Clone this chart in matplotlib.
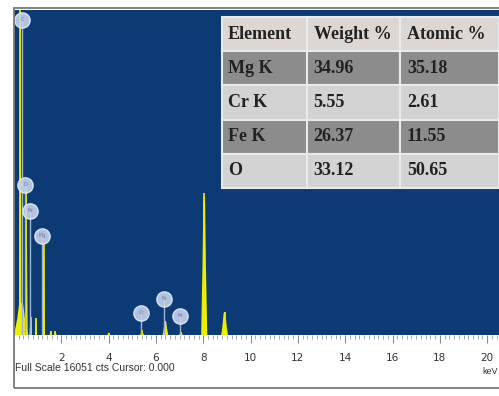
import matplotlib.pyplot as plt
from matplotlib.patches import Rectangle
from matplotlib.ticker import MultipleLocator

# spectrum peaks: energy (keV), height (counts), half width (keV)
peak_kev = [0.27, 0.30, 0.52, 0.70, 0.93, 1.25, 1.55, 1.75, 4.00, 5.41, 6.40, 7.06, 8.04, 8.90]
peak_cts = [16400, 1600, 7400, 900, 840, 4500, 200, 180, 120, 250, 700, 150, 7000, 1150]
peak_hw = [0.05, 0.30, 0.06, 0.05, 0.04, 0.06, 0.05, 0.05, 0.05, 0.08, 0.12, 0.08, 0.13, 0.14]

# peak label balloons
label_names = ['C', 'O', 'Fe', 'Mg', 'Cr', 'Fe', 'Fe']
label_kev = [0.35, 0.48, 0.69, 1.20, 5.38, 6.35, 7.03]
label_cts = [15560, 7410, 6130, 4890, 1090, 1780, 940]

full_scale = 16051
x_ticks = [2, 4, 6, 8, 10, 12, 14, 16, 18, 20]

# quantification table
col_heads = ['Element', 'Weight %', 'Atomic %']
elements = ['Mg K', 'Cr K', 'Fe K', 'O']
weight = ['34.96', '5.55', '26.37', '33.12']
atomic = ['35.18', '2.61', '11.55', '50.65']

W, H = 499, 396
blue = '#0b3a74'
yellow = '#eeee00'

fig = plt.figure(figsize=(W / 100, H / 100), dpi=100)
ax = fig.add_axes([14 / W, (H - 335) / H, (499 - 14) / W, (335 - 10) / H])
ax.set_facecolor(blue)

for e, h, w in zip(peak_kev, peak_cts, peak_hw):
    # peak outline: wide base, steep sides, rounded top
    ax.fill([e - w, e - w * 0.55, e - w * 0.3, e, e + w * 0.3, e + w * 0.55, e + w],
            [0, h * 0.5, h * 0.93, h, h * 0.93, h * 0.5, 0], color=yellow, lw=0)
    ax.vlines(e, 0, h, color=yellow, lw=1.2)

# balloons with stems
for name, e, c in zip(label_names, label_kev, label_cts):
    ax.vlines(e, 0, c, color='#9fb3d6', lw=1, zorder=3)
    ax.plot(e, c, 'o', ms=11, mfc='#c6d3ec', mec='#e4ebf7', mew=1, alpha=0.9, zorder=4)
    ax.text(e, c, name, fontsize=3.5, color='#6a7fa8', ha='center', va='center', zorder=5)

ax.set_xlim(0, 20.5)
ax.set_ylim(0, full_scale)
ax.set_xticks(x_ticks)
ax.xaxis.set_minor_locator(MultipleLocator(0.2))
ax.set_yticks([])
ax.tick_params(axis='x', which='major', direction='out', length=6, color='#8a8a8a',
               labelsize=7.5, labelcolor='#333333', pad=7)
ax.tick_params(axis='x', which='minor', direction='out', length=3, color='#9a9a9a')
for s in ['top', 'right', 'bottom']:
    ax.spines[s].set_visible(False)
ax.spines['left'].set_color('#555555')

fig.text(15 / W, 1 - 368 / H, 'Full Scale 16051 cts Cursor: 0.000', fontsize=7.5,
         family='Liberation Sans', color='#333333', va='center')
fig.text(498 / W, 1 - 371 / H, 'keV', fontsize=6.5, family='Liberation Sans',
         color='#333333', va='center', ha='right')

fig.add_artist(Rectangle((14 / W, 1 - 388 / H), (520 - 14) / W, (388 - 8) / H,
                         transform=fig.transFigure, fill=False, ec='#7a7a7a', lw=1.3))

# table in the top right
tax = fig.add_axes([222 / W, 1 - 188 / H, (499 - 222) / W, (188 - 17) / H])
tax.axis('off')
rows = [col_heads] + [[a, b, c] for a, b, c in zip(elements, weight, atomic)]
row_cols = ['#dcd7d3', '#8c8c8c', '#d3d3d3', '#8c8c8c', '#d3d3d3']
tbl = tax.table(cellText=rows, cellColours=[[rc] * 3 for rc in row_cols],
                colWidths=[85 / 277, 93 / 277, 99 / 277], bbox=[0, 0, 1, 1], cellLoc='left')
tbl.auto_set_font_size(False)
for (r, c), cell in tbl.get_celld().items():
    cell.set_edgecolor('#eaeaea')
    cell.set_linewidth(1.5)
    cell.PAD = 0.07
    t = cell.get_text()
    t.set_fontfamily('Liberation Serif')
    t.set_fontsize(13)
    t.set_fontweight('bold')
    t.set_color('#222222')

fig.savefig('out.png', dpi=100)
